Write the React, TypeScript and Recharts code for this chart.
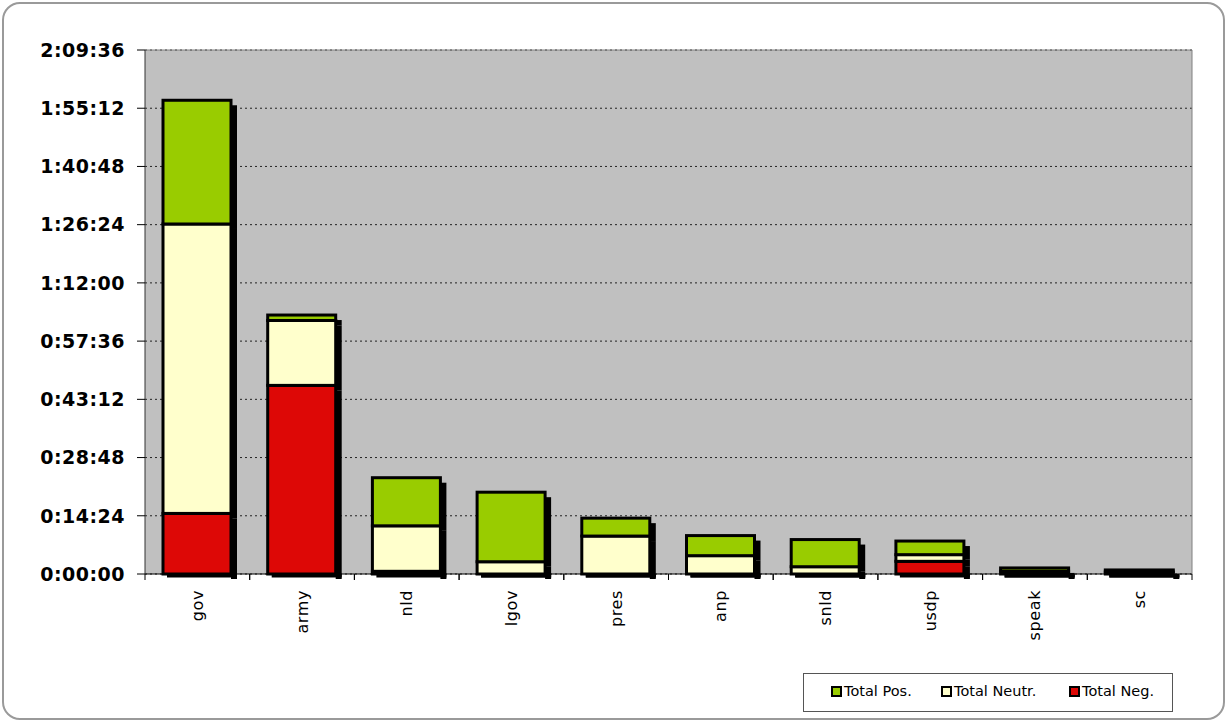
import { BarChart, Bar, XAxis, YAxis, CartesianGrid } from 'recharts';

// categories and values (seconds)
const categories = ['gov', 'army', 'nld', 'lgov', 'pres', 'anp', 'snld', 'usdp', 'speak', 'sc'];
const negValues = [899, 2799, 40, 0, 0, 0, 0, 188, 0, 0];
const neutralValues = [4295, 963, 675, 182, 563, 272, 108, 99, 40, 30];
const posValues = [1836, 81, 714, 1032, 266, 298, 403, 202, 50, 30];

// y ticks every 0:14:24
const yTicks = [0, 864, 1728, 2592, 3456, 4320, 5184, 6048, 6912, 7776];

const seriesNames = ['Total Pos.', 'Total Neutr.', 'Total Neg.'];
const seriesColors = ['#99CC00', '#FFFFCC', '#DD0806'];

const W = 1227;
const H = 723;
const BASE_Y = 574; // plot bottom
const HALF_BAND = (1192 - 145) / 20;

const data = categories.map((name, i) => ({
  name,
  neg: negValues[i],
  neu: neutralValues[i],
  pos: posValues[i],
}));

const fmtTime = (v: number) => {
  const h = Math.floor(v / 3600);
  const m = Math.floor((v % 3600) / 60);
  const s = Math.round(v % 60);
  return `${h}:${String(m).padStart(2, '0')}:${String(s).padStart(2, '0')}`;
};

// bar segment with black outline and offset drop shadow
const ShadowBar = (props: any) => {
  const { x, y, width, height, fill } = props;
  if (x == null || width == null) return null;
  const bottom = y + height;
  const atBase = Math.abs(bottom - BASE_Y) < 1;
  return (
    <g>
      {height > 0 && <rect x={x + width} y={y + 5} width={6} height={height} fill="#000" />}
      {atBase && <rect x={x + 4} y={bottom} width={width + 2} height={3.5} fill="#000" />}
      {height > 0 && (
        <rect x={x} y={y} width={width} height={height} fill={fill} stroke="#000" strokeWidth={3} />
      )}
    </g>
  );
};

const CategoryTick = ({ x, y, payload }: any) => (
  <g transform={`translate(${x},${y})`}>
    <line x1={-HALF_BAND} x2={-HALF_BAND} y1={0} y2={6} stroke="#000" />
    <line x1={HALF_BAND} x2={HALF_BAND} y1={0} y2={6} stroke="#000" />
    <text
      transform="translate(0,16) rotate(-90)"
      textAnchor="end"
      dominantBaseline="central"
      fontSize={16}
      letterSpacing={0.6}
      fontFamily="DejaVu Sans, Verdana, sans-serif"
      fill="#000"
    >
      {payload.value}
    </text>
  </g>
);

export default function App() {
  return (
    <div style={{ position: 'absolute', left: 0, top: 0, width: W, height: H, background: '#fff' }}>
      <div
        style={{
          position: 'absolute',
          left: 2,
          top: 2,
          width: 1223,
          height: 718,
          border: '2.5px solid #9a9a9a',
          borderRadius: 18,
          boxSizing: 'border-box',
        }}
      />
      <div style={{ position: 'absolute', left: 0, top: 0 }}>
        <BarChart
          width={W}
          height={H}
          data={data}
          margin={{ top: 49, right: 34, bottom: 89, left: 0 }}
          barSize={68}
        >
          <CartesianGrid
            vertical={false}
            fill="#C0C0C0"
            stroke="#222"
            strokeDasharray="2 3"
          />
          <XAxis
            dataKey="name"
            height={60}
            interval={0}
            tickLine={false}
            tickSize={0}
            tickMargin={0}
            axisLine={{ stroke: '#000' }}
            tick={<CategoryTick />}
          />
          <XAxis
            xAxisId="top"
            dataKey="name"
            orientation="top"
            height={1}
            tick={false}
            tickLine={false}
            axisLine={{ stroke: '#808080' }}
          />
          <YAxis
            domain={[0, 7776]}
            ticks={yTicks}
            interval={0}
            width={145}
            tickFormatter={fmtTime}
            tickSize={8}
            tickMargin={12}
            tickLine={{ stroke: '#000' }}
            axisLine={{ stroke: '#333' }}
            tick={{
              fontSize: 19,
              fontWeight: 'bold',
              fill: '#000',
              letterSpacing: 0.5,
              fontFamily: 'DejaVu Sans, Verdana, sans-serif',
            }}
          />
          <YAxis
            yAxisId="right"
            orientation="right"
            domain={[0, 7776]}
            width={1}
            tick={false}
            tickLine={false}
            axisLine={{ stroke: '#808080' }}
          />
          <Bar dataKey="neg" name={seriesNames[2]} stackId="a" fill={seriesColors[2]} shape={<ShadowBar />} isAnimationActive={false} />
          <Bar dataKey="neu" name={seriesNames[1]} stackId="a" fill={seriesColors[1]} shape={<ShadowBar />} isAnimationActive={false} />
          <Bar dataKey="pos" name={seriesNames[0]} stackId="a" fill={seriesColors[0]} shape={<ShadowBar />} isAnimationActive={false} />
        </BarChart>
      </div>
      <div
        style={{
          position: 'absolute',
          left: 803,
          top: 673,
          width: 370,
          height: 39,
          border: '1px solid #555',
          boxSizing: 'border-box',
          background: '#fff',
          fontFamily: 'DejaVu Sans, Verdana, sans-serif',
          fontSize: 14.5,
          color: '#000',
        }}
      >
        {seriesNames.map((n, i) => (
          <div
            key={n}
            style={{ position: 'absolute', left: [27, 137, 265][i], top: 9, display: 'flex', alignItems: 'center', whiteSpace: 'nowrap' }}
          >
            <span
              style={{
                display: 'inline-block',
                width: 7,
                height: 7,
                border: '2px solid #000',
                background: seriesColors[i],
                marginRight: 2,
              }}
            />
            {n}
          </div>
        ))}
      </div>
    </div>
  );
}
